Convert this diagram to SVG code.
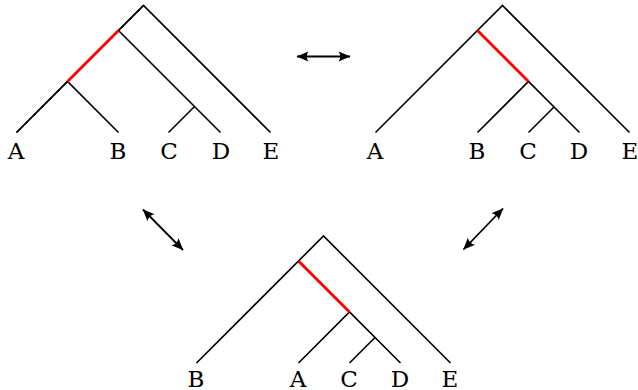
<svg xmlns="http://www.w3.org/2000/svg" width="638" height="390" viewBox="0 0 638 390">
  <style>
    .edge { stroke: #000; stroke-width: 1.6; fill: none; stroke-linecap: butt; }
    .moved { stroke: #ff0000; stroke-width: 2.8; fill: none; }
    .lbl { font-family: "DejaVu Serif", "Liberation Serif", serif; font-size: 23px; fill: #000; text-anchor: middle; }
    .link { stroke: #000; stroke-width: 1.8; fill: none; marker-start: url(#tip); marker-end: url(#tip); }
  </style>
  <defs>
    <marker id="tip" viewBox="-12 -6 13 12" refX="0" refY="0" markerWidth="13" markerHeight="12" markerUnits="userSpaceOnUse" orient="auto-start-reverse">
      <path d="M0.5,0 L-11.5,-5 Q-8,0 -11.5,5 Z" fill="#000"/>
    </marker>
  </defs>

  <!-- Tree 1: ((A,B),(C,D)),E -->
  <g id="tree1">
    <path class="edge" d="M16.5,132.5 L143.5,5.5 L270.5,132.5"/>
    <path class="edge" d="M143.5,5.5 L118.5,30.5 L220.5,132.5"/>
    <path class="edge" d="M16.5,132.5 L67.5,81.5 L118.5,132.5"/>
    <path class="edge" d="M168.5,132.5 L194.5,106.5"/>
    <line class="moved" x1="118.5" y1="30.5" x2="67.5" y2="81.5"/>
    <text class="lbl" x="16" y="159">A</text>
    <text class="lbl" x="118" y="159">B</text>
    <text class="lbl" x="169" y="159">C</text>
    <text class="lbl" x="221" y="159">D</text>
    <text class="lbl" x="271" y="159">E</text>
  </g>

  <!-- Tree 2: (A,(B,(C,D))),E -->
  <g id="tree2">
    <path class="edge" d="M375.5,132.5 L502.5,5.5 L629.5,132.5"/>
    <path class="edge" d="M477.5,132.5 L528.5,81.5 L579.5,132.5"/>
    <path class="edge" d="M528.5,132.5 L554,107"/>
    <line class="moved" x1="477.5" y1="30.5" x2="528.5" y2="81.5"/>
    <text class="lbl" x="375" y="159">A</text>
    <text class="lbl" x="477" y="159">B</text>
    <text class="lbl" x="528" y="159">C</text>
    <text class="lbl" x="579" y="159">D</text>
    <text class="lbl" x="630" y="159">E</text>
  </g>

  <!-- Tree 3: (B,(A,(C,D))),E -->
  <g id="tree3">
    <path class="edge" d="M196.5,363 L323.5,236 L450.5,363"/>
    <path class="edge" d="M298.5,363 L349.5,312 L400.5,363"/>
    <path class="edge" d="M349.5,363 L375,337.5"/>
    <line class="moved" x1="298.5" y1="261" x2="349.5" y2="312"/>
    <text class="lbl" x="196" y="387">B</text>
    <text class="lbl" x="298" y="387">A</text>
    <text class="lbl" x="349" y="387">C</text>
    <text class="lbl" x="400" y="387">D</text>
    <text class="lbl" x="450" y="387">E</text>
  </g>

  <!-- Double-headed arrows between the trees -->
  <g id="connectors">
    <line class="link" x1="297" y1="56.5" x2="350" y2="56.5"/>
    <line class="link" x1="143" y1="209.5" x2="183" y2="250"/>
    <line class="link" x1="503" y1="208.5" x2="463.5" y2="249.5"/>
  </g>
</svg>
